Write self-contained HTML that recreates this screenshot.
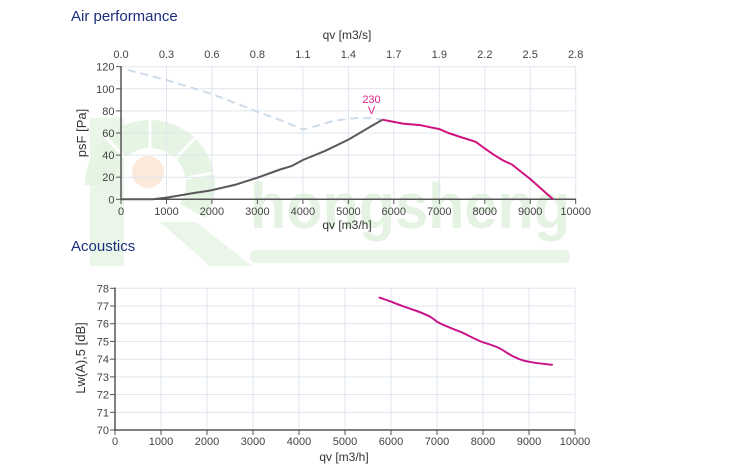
<!DOCTYPE html>
<html><head><meta charset="utf-8"><style>
html,body{margin:0;padding:0;background:#fff;}
svg{display:block;font-family:"Liberation Sans",Arial,sans-serif;}
</style></head><body>
<svg width="750" height="473" viewBox="0 0 750 473" xmlns="http://www.w3.org/2000/svg">
<rect width="750" height="473" fill="#fff"/>
<!-- watermark -->
<g opacity="1">
  <rect x="90" y="118" width="34" height="148" fill="#eaf6e8"/>
  <path d="M 85 185 A 65 65 0 1 1 206 218 L 180 204 A 36 36 0 1 0 114 185 Z" fill="#e6f4e4"/>
  <g stroke="#fff" stroke-width="3">
    <line x1="150" y1="185" x2="150" y2="115"/>
    <line x1="150" y1="185" x2="197" y2="136"/>
    <line x1="150" y1="185" x2="218" y2="172"/>
    <line x1="150" y1="185" x2="105" y2="136"/>
  </g>
  <circle cx="148" cy="172" r="16" fill="#fde9dc"/>
  <polygon points="160,222 196,222 252,266 210,266" fill="#eaf6e8"/>
  <text x="250" y="228" font-size="64" font-weight="bold" fill="#e4f3e2" textLength="320" lengthAdjust="spacingAndGlyphs">hongsheng</text>
  <rect x="250" y="250" width="320" height="13" rx="5" fill="#e9f6e7"/>
</g>

<!-- titles -->
<text x="71" y="21" font-size="15" fill="#1c2e7c">Air performance</text>
<text x="71" y="251" font-size="15" fill="#1c2e7c">Acoustics</text>

<!-- TOP CHART -->
<g stroke="#dfe6ef" stroke-width="1" fill="none">
  <line x1="121" y1="66.7" x2="575.7" y2="66.7"/>
  <line x1="121" y1="88.8" x2="575.7" y2="88.8"/>
  <line x1="121" y1="110.9" x2="575.7" y2="110.9"/>
  <line x1="121" y1="133" x2="575.7" y2="133"/>
  <line x1="121" y1="155.1" x2="575.7" y2="155.1"/>
  <line x1="121" y1="177.2" x2="575.7" y2="177.2"/>
  <line x1="166.5" y1="66.7" x2="166.5" y2="199.3"/>
  <line x1="211.9" y1="66.7" x2="211.9" y2="199.3"/>
  <line x1="257.4" y1="66.7" x2="257.4" y2="199.3"/>
  <line x1="302.9" y1="66.7" x2="302.9" y2="199.3"/>
  <line x1="348.4" y1="66.7" x2="348.4" y2="199.3"/>
  <line x1="393.8" y1="66.7" x2="393.8" y2="199.3"/>
  <line x1="439.3" y1="66.7" x2="439.3" y2="199.3"/>
  <line x1="484.8" y1="66.7" x2="484.8" y2="199.3"/>
  <line x1="530.2" y1="66.7" x2="530.2" y2="199.3"/>
  <line x1="575.7" y1="66.7" x2="575.7" y2="199.3"/>
</g>
<g stroke="#555" stroke-width="1.5" fill="none">
  <line x1="121" y1="66" x2="121" y2="200"/>
  <line x1="120.3" y1="199.3" x2="576" y2="199.3"/>
</g>
<g stroke="#555" stroke-width="1" fill="none">
  <line x1="116" y1="66.7" x2="121" y2="66.7"/>
  <line x1="116" y1="88.8" x2="121" y2="88.8"/>
  <line x1="116" y1="110.9" x2="121" y2="110.9"/>
  <line x1="116" y1="133" x2="121" y2="133"/>
  <line x1="116" y1="155.1" x2="121" y2="155.1"/>
  <line x1="116" y1="177.2" x2="121" y2="177.2"/>
  <line x1="116" y1="199.3" x2="121" y2="199.3"/>
  <line x1="121" y1="199" x2="121" y2="204"/>
  <line x1="166.5" y1="199" x2="166.5" y2="204"/>
  <line x1="211.9" y1="199" x2="211.9" y2="204"/>
  <line x1="257.4" y1="199" x2="257.4" y2="204"/>
  <line x1="302.9" y1="199" x2="302.9" y2="204"/>
  <line x1="348.4" y1="199" x2="348.4" y2="204"/>
  <line x1="393.8" y1="199" x2="393.8" y2="204"/>
  <line x1="439.3" y1="199" x2="439.3" y2="204"/>
  <line x1="484.8" y1="199" x2="484.8" y2="204"/>
  <line x1="530.2" y1="199" x2="530.2" y2="204"/>
  <line x1="575.7" y1="199" x2="575.7" y2="204"/>
</g>
<g font-size="11" fill="#444" text-anchor="end">
  <text x="114.5" y="70.7">120</text>
  <text x="114.5" y="92.8">100</text>
  <text x="114.5" y="114.9">80</text>
  <text x="114.5" y="137">60</text>
  <text x="114.5" y="159.1">40</text>
  <text x="114.5" y="181.2">20</text>
  <text x="114.5" y="203.3">0</text>
</g>
<g font-size="11" fill="#444" text-anchor="middle">
  <text x="121" y="215">0</text>
  <text x="166.5" y="215">1000</text>
  <text x="211.9" y="215">2000</text>
  <text x="257.4" y="215">3000</text>
  <text x="302.9" y="215">4000</text>
  <text x="348.4" y="215">5000</text>
  <text x="393.8" y="215">6000</text>
  <text x="439.3" y="215">7000</text>
  <text x="484.8" y="215">8000</text>
  <text x="530.2" y="215">9000</text>
  <text x="575.7" y="215">10000</text>
  <text x="121" y="58">0.0</text>
  <text x="166.5" y="58">0.3</text>
  <text x="211.9" y="58">0.6</text>
  <text x="257.4" y="58">0.8</text>
  <text x="302.9" y="58">1.1</text>
  <text x="348.4" y="58">1.4</text>
  <text x="393.8" y="58">1.7</text>
  <text x="439.3" y="58">1.9</text>
  <text x="484.8" y="58">2.2</text>
  <text x="530.2" y="58">2.5</text>
  <text x="575.7" y="58">2.8</text>
</g>
<text x="347" y="39" font-size="12" fill="#333" text-anchor="middle">qv [m3/s]</text>
<text x="347" y="229" font-size="12" fill="#333" text-anchor="middle">qv [m3/h]</text>
<text transform="translate(86,133) rotate(-90)" font-size="13" fill="#333" text-anchor="middle">psF [Pa]</text>

<!-- dashed curve -->
<polyline fill="none" stroke="#cddbea" stroke-width="2" stroke-dasharray="8,5" points="127.8,70 166.5,80 211.9,94 257.4,111.7 280.1,120 302.9,129.5 316.5,126 334.7,120.5 357.4,118 371.1,118.3 382.5,119.7"/>
<!-- gray curve -->
<polyline fill="none" stroke="#595959" stroke-width="2" stroke-linejoin="round" points="121,199.3 152.8,199.3 166.5,197.6 180.1,195.4 193.8,193 207.4,191 211.9,190.1 234.7,184.9 257.4,177.7 280.1,169.5 291.5,166.1 302.9,160 325.6,150.7 348.4,139.6 371.1,126.3 382.5,119.7"/>
<!-- magenta curve -->
<polyline fill="none" stroke="#d0127e" stroke-width="2" stroke-linejoin="round" points="382.5,119.7 393.8,121.9 402.9,123.6 421.1,125.3 439.3,129.1 448.4,133 462,137.5 475.7,141.8 484.8,148.5 493.9,154.8 503,160.4 512.1,164.6 530.2,179 553,199.3"/>
<text x="371.5" y="103" font-size="11" fill="#e0208a" text-anchor="middle">230</text>
<text x="371.5" y="114" font-size="11" fill="#e0208a" text-anchor="middle">V</text>

<!-- BOTTOM CHART -->
<g stroke="#dfe6ef" stroke-width="1" fill="none">
  <line x1="115" y1="288.3" x2="575" y2="288.3"/>
  <line x1="115" y1="306" x2="575" y2="306"/>
  <line x1="115" y1="323.7" x2="575" y2="323.7"/>
  <line x1="115" y1="341.4" x2="575" y2="341.4"/>
  <line x1="115" y1="359.2" x2="575" y2="359.2"/>
  <line x1="115" y1="376.9" x2="575" y2="376.9"/>
  <line x1="115" y1="394.6" x2="575" y2="394.6"/>
  <line x1="115" y1="412.3" x2="575" y2="412.3"/>
  <line x1="161" y1="288.3" x2="161" y2="430"/>
  <line x1="207" y1="288.3" x2="207" y2="430"/>
  <line x1="253" y1="288.3" x2="253" y2="430"/>
  <line x1="299" y1="288.3" x2="299" y2="430"/>
  <line x1="345" y1="288.3" x2="345" y2="430"/>
  <line x1="391" y1="288.3" x2="391" y2="430"/>
  <line x1="437" y1="288.3" x2="437" y2="430"/>
  <line x1="483" y1="288.3" x2="483" y2="430"/>
  <line x1="529" y1="288.3" x2="529" y2="430"/>
  <line x1="575" y1="288.3" x2="575" y2="430"/>
</g>
<g stroke="#555" stroke-width="1.5" fill="none">
  <line x1="115" y1="287.5" x2="115" y2="431"/>
  <line x1="114.3" y1="430" x2="575.5" y2="430"/>
</g>
<g stroke="#555" stroke-width="1" fill="none">
  <line x1="110" y1="288.3" x2="115" y2="288.3"/>
  <line x1="110" y1="306" x2="115" y2="306"/>
  <line x1="110" y1="323.7" x2="115" y2="323.7"/>
  <line x1="110" y1="341.4" x2="115" y2="341.4"/>
  <line x1="110" y1="359.2" x2="115" y2="359.2"/>
  <line x1="110" y1="376.9" x2="115" y2="376.9"/>
  <line x1="110" y1="394.6" x2="115" y2="394.6"/>
  <line x1="110" y1="412.3" x2="115" y2="412.3"/>
  <line x1="110" y1="430" x2="115" y2="430"/>
  <line x1="115" y1="430" x2="115" y2="435"/>
  <line x1="161" y1="430" x2="161" y2="435"/>
  <line x1="207" y1="430" x2="207" y2="435"/>
  <line x1="253" y1="430" x2="253" y2="435"/>
  <line x1="299" y1="430" x2="299" y2="435"/>
  <line x1="345" y1="430" x2="345" y2="435"/>
  <line x1="391" y1="430" x2="391" y2="435"/>
  <line x1="437" y1="430" x2="437" y2="435"/>
  <line x1="483" y1="430" x2="483" y2="435"/>
  <line x1="529" y1="430" x2="529" y2="435"/>
  <line x1="575" y1="430" x2="575" y2="435"/>
</g>
<g font-size="11" fill="#444" text-anchor="end">
  <text x="109" y="292.3">78</text>
  <text x="109" y="310">77</text>
  <text x="109" y="327.7">76</text>
  <text x="109" y="345.4">75</text>
  <text x="109" y="363.2">74</text>
  <text x="109" y="380.9">73</text>
  <text x="109" y="398.6">72</text>
  <text x="109" y="416.3">71</text>
  <text x="109" y="434">70</text>
</g>
<g font-size="11" fill="#444" text-anchor="middle">
  <text x="115" y="445">0</text>
  <text x="161" y="445">1000</text>
  <text x="207" y="445">2000</text>
  <text x="253" y="445">3000</text>
  <text x="299" y="445">4000</text>
  <text x="345" y="445">5000</text>
  <text x="391" y="445">6000</text>
  <text x="437" y="445">7000</text>
  <text x="483" y="445">8000</text>
  <text x="529" y="445">9000</text>
  <text x="575" y="445">10000</text>
</g>
<text x="344" y="461" font-size="12" fill="#333" text-anchor="middle">qv [m3/h]</text>
<text transform="translate(85,358) rotate(-90)" font-size="13" fill="#333" text-anchor="middle">Lw(A),5 [dB]</text>
<path fill="none" stroke="#c8168a" stroke-width="2" stroke-linejoin="round" stroke-linecap="round" d="M379.5,297.6 C385,299.5 388,300.5 391,301.6 C400,305.5 407,307.5 414,310 C421,312.5 426,314.5 430.1,316.7 C433,318.5 435,320 437,321.7 C445,326 452,328.5 460,331.6 C468,335 475,339.5 483,342.3 C489,344 493,345.5 496.8,347 C504,350 509,355 515.2,357.3 C520,359.8 524,361 529,361.7 C537,363.5 545,364 552,364.7"/>
</svg>
</body></html>
